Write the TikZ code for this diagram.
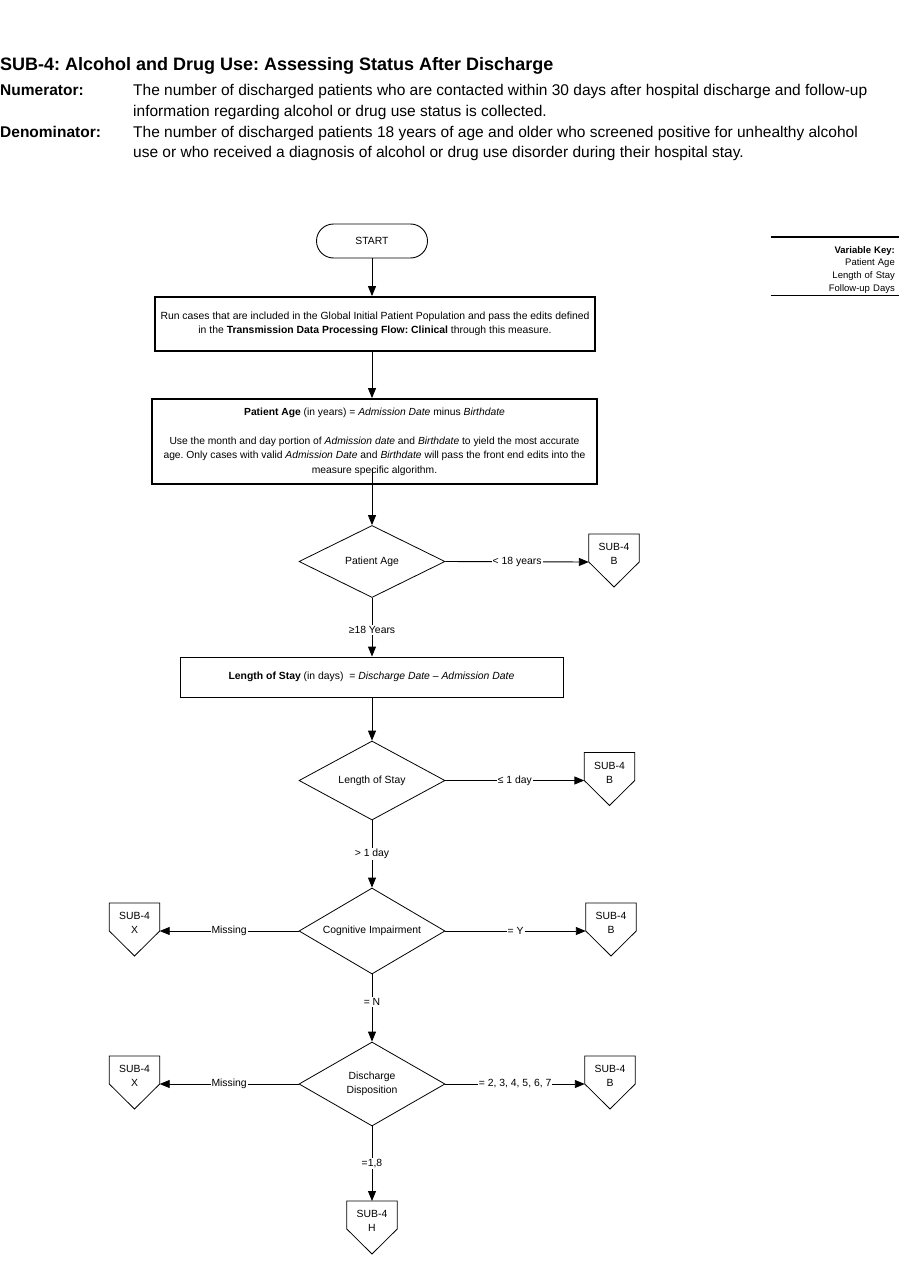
\documentclass[tikz,border=0pt]{standalone}
\usepackage{fontspec}
\setmainfont{Liberation Sans}
\frenchspacing
\usetikzlibrary{
    shapes.geometric, arrows.meta, positioning, calc
}
\definecolor{flowBlack}{HTML}{000000}
\newcommand{\DrawOffPage}[1]{
    \draw[offLine] (#1.north west) -- ($(#1.north west)+(0,28)$) -- ($(#1.north)+(0,53)$)
        -- ($(#1.north east)+(0,28)$) -- (#1.north east) -- cycle;
    \coordinate (#1W) at ($(#1.north west)+(0,28)$);
    \coordinate (#1E) at ($(#1.north east)+(0,28)$);
}
\tikzset{
    % Common
    arrowFlow/.style={-{Triangle[length=10pt,width=8pt]}, draw=flowBlack, line width=0.9pt},
    offLine/.style={draw=flowBlack, line width=0.8pt},
    flowText/.style={font=\fontsize{10.4}{14}\selectfont},
    pathLabel/.style={fill=white, inner sep=1pt, flowText},
    % Header Styles
    titleText/.style={inner sep=0pt, font=\fontsize{18}{22}\selectfont\bfseries},
    headLabel/.style={inner sep=0pt, font=\fontsize{15.5}{21}\selectfont\bfseries},
    headText/.style={inner sep=0pt, font=\fontsize{15.5}{21}\selectfont},
    keyText/.style={text width=120pt, align=right, inner xsep=4pt, inner ysep=2.5pt,
        font=\fontsize{9.5}{12.7}\selectfont},
    % Flow Styles
    startBox/.style={rectangle, rounded corners=17pt, draw=flowBlack, line width=0.9pt,
        minimum width=111pt, minimum height=34pt, flowText},
    thickBox/.style={rectangle, draw=flowBlack, line width=1.8pt, align=center, inner sep=0pt, flowText},
    thinBox/.style={rectangle, draw=flowBlack, line width=0.9pt, align=center, inner sep=0pt, flowText},
    decisionBox/.style={diamond, aspect=1.8, draw=flowBlack, line width=0.8pt, align=center,
        inner sep=0pt, minimum width=146pt, flowText},
    offPage/.style={rectangle, draw=none, minimum width=50pt, minimum height=40pt,
        align=center, inner sep=0pt, flowText}
}

\begin{document}
\begin{tikzpicture}[x=1pt, y=-1pt]
    \useasboundingbox (0,0) rectangle (901,1287);

    % Header
    \node[titleText, anchor=base west] (title) at (0,71) {SUB-4: Alcohol and Drug Use: Assessing Status After Discharge};
    \node[headLabel, anchor=base west] (numLabel) at (0,96) {Numerator:};
    \node[headText, anchor=base west] (numLineA) at (133,96) {The number of discharged patients who are contacted within 30 days after hospital discharge and follow-up};
    \node[headText, anchor=base west] (numLineB) at (133,116.5) {information regarding alcohol or drug use status is collected.};
    \node[headLabel, anchor=base west] (denLabel) at (0,137) {Denominator:};
    \node[headText, anchor=base west] (denLineA) at (133,137) {The number of discharged patients 18 years of age and older who screened positive for unhealthy alcohol};
    \node[headText, anchor=base west] (denLineB) at (133,157.5) {use or who received a diagnosis of alcohol or drug use disorder during their hospital stay.};

    % Variable Key
    \node[keyText, anchor=north east] (varKey) at (899,243.5) {\textbf{Variable Key:}\\Patient Age\\Length of Stay\\Follow-up Days};
    \draw[line width=1.2pt] ($(varKey.north west)+(0,-6.5)$) -- ($(varKey.north east)+(0,-6.5)$);
    \draw[line width=1.2pt] (varKey.south west) -- (varKey.south east);

    % Start and population
    \node[startBox] (start) at (372,241) {START};
    \node[thickBox, minimum width=440pt, minimum height=54pt] (runBox) at (375,324)
        {Run cases that are included in the Global Initial Patient Population and pass the edits defined\\
         in the \textbf{Transmission Data Processing Flow: Clinical} through this measure.};
    \node[thickBox, minimum width=445pt, minimum height=85pt, font=\fontsize{10.3}{14.5}\selectfont] (ageBox) at (374.5,441.5)
        {\textbf{Patient Age} (in years) = \textit{Admission Date} minus \textit{Birthdate}\\[14.5pt]
         Use the month and day portion of \textit{Admission date} and \textit{Birthdate} to yield the most accurate\\
         age. Only cases with valid \textit{Admission Date} and \textit{Birthdate} will pass the front end edits into the\\
         measure specific algorithm.};
    \coordinate (ageExit) at (372,468);

    % Patient Age
    \node[decisionBox, minimum height=72pt] (ageDec) at (372,561.5) {Patient Age};
    \node[offPage, anchor=north] (ageOut) at (614,534) {SUB-4\\B};
    \DrawOffPage{ageOut}

    % Length of Stay
    \node[thinBox, minimum width=383pt, minimum height=40pt] (losBox) at (371.5,677)
        {\textbf{Length of Stay} (in days)\ \ = \textit{Discharge Date – Admission Date}};
    \node[decisionBox, minimum height=79pt] (losDec) at (372,780.5) {Length of Stay};
    \node[offPage, anchor=north] (losOut) at (609.5,752.5) {SUB-4\\B};
    \DrawOffPage{losOut}

    % Cognitive Impairment
    \node[decisionBox, minimum height=86pt] (cogDec) at (372,931) {Cognitive Impairment};
    \node[offPage, anchor=north] (cogMiss) at (134.5,903) {SUB-4\\X};
    \DrawOffPage{cogMiss}
    \node[offPage, anchor=north] (cogOut) at (611,903) {SUB-4\\B};
    \DrawOffPage{cogOut}

    % Discharge Disposition
    \node[decisionBox, minimum height=84pt] (disDec) at (372,1084) {Discharge\\Disposition};
    \node[offPage, anchor=north] (disMiss) at (134.5,1056) {SUB-4\\X};
    \DrawOffPage{disMiss}
    \node[offPage, anchor=north] (disOut) at (610,1056) {SUB-4\\B};
    \DrawOffPage{disOut}
    \node[offPage, anchor=north] (disHome) at (372,1201) {SUB-4\\H};
    \DrawOffPage{disHome}

    % Connectors
    \draw[arrowFlow] (start.south) -- (start.south |- runBox.north);
    \draw[arrowFlow] (start.south |- runBox.south) -- (start.south |- ageBox.north);
    \draw[arrowFlow] (ageExit) -- (ageDec.north);
    \draw[arrowFlow] (ageDec.east) -- node[pathLabel] {< 18 years} (ageOutW);
    \draw[arrowFlow] (ageDec.south) -- node[pathLabel, pos=0.55] {≥18 Years} (ageDec.south |- losBox.north);
    \draw[arrowFlow] (ageDec.south |- losBox.south) -- (losDec.north);
    \draw[arrowFlow] (losDec.east) -- node[pathLabel] {≤ 1 day} (losOutW);
    \draw[arrowFlow] (losDec.south) -- node[pathLabel] {> 1 day} (cogDec.north);
    \draw[arrowFlow] (cogDec.west) -- node[pathLabel] {Missing} (cogMissE);
    \draw[arrowFlow] (cogDec.east) -- node[pathLabel] {= Y} (cogOutW);
    \draw[arrowFlow] (cogDec.south) -- node[pathLabel, pos=0.41] {= N} (disDec.north);
    \draw[arrowFlow] (disDec.west) -- node[pathLabel] {Missing} (disMissE);
    \draw[arrowFlow] (disDec.east) -- node[pathLabel] {= 2, 3, 4, 5, 6, 7} (disOutW);
    \draw[arrowFlow] (disDec.south) -- node[pathLabel] {=1,8} (disHome.north);
\end{tikzpicture}
\end{document}
